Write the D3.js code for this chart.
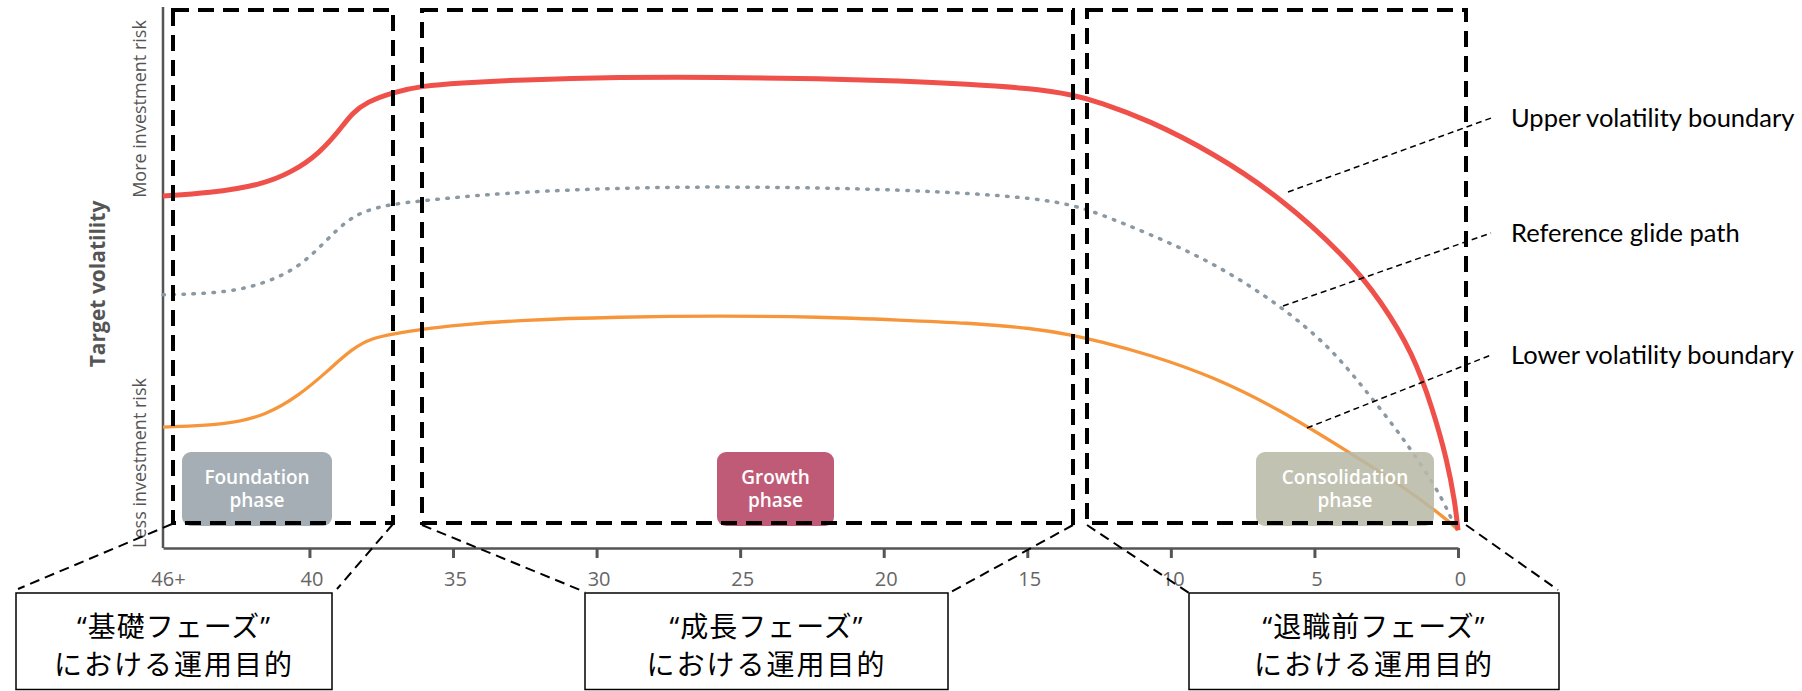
<!DOCTYPE html>
<html><head><meta charset="utf-8">
<script src="https://cdn.jsdelivr.net/npm/d3@7"></script>
<style>
html,body{margin:0;padding:0;background:#fff;}
svg{display:block;}
</style></head>
<body>
<svg id="chart" width="1802" height="691"></svg>
<script>
// ---------------- DATA ----------------
// years to retirement (x) vs target volatility index (0-100, no scale shown)
const upperBoundary = [
  [45.1,65.2],[43.5,65.7],[41.7,67.2],[40.6,69.6],[39.65,73.1],[38.95,77.4],[38.5,80.6],
  [38.0,82.6],[37.1,84.4],[36.05,85.6],[34.8,86.1],[32.7,86.7],[29.2,87.2],[25.7,87.2],
  [22.2,86.9],[19.4,86.5],[17.1,85.9],[14.8,85.1],[13.4,83.9],[12.5,82.6],[10.8,79.3],
  [8.5,73.1],[6.2,65.0],[3.9,53.9],[2.7,45.9],[1.57,36.1],[0.87,25.6],[0.38,16.3],
  [0.1,8.3],[0,3.3]
];
const referenceGlidePath = [
  [45.1,46.9],[42.9,47.2],[41.5,49.1],[40.35,52.0],[39.4,57.0],[38.7,60.7],[38.0,62.6],
  [37.1,63.7],[36.05,64.3],[34.8,65.0],[32.7,65.9],[29.2,66.7],[25.7,66.9],[22.2,66.7],
  [19.4,66.3],[17.1,65.7],[14.8,64.8],[13.4,63.5],[12.5,61.9],[10.8,58.3],[8.5,52.8],
  [6.2,45.0],[4.46,37.2],[3.31,29.8],[2.13,21.9],[1.22,15.0],[0.52,8.9],[0.17,4.6],[0,3.3]
];
const lowerBoundary = [
  [45.1,22.4],[42.9,22.8],[41.5,24.6],[40.35,28.3],[39.4,32.6],[38.5,37.0],[37.8,38.9],
  [37.1,39.6],[36.05,40.6],[34.8,41.3],[32.7,42.2],[29.2,42.8],[25.7,43.0],[22.2,42.8],
  [19.4,42.2],[17.1,41.7],[14.8,40.7],[13.4,39.4],[12.5,38.3],[10.8,35.9],[8.5,31.7],
  [6.2,25.6],[3.9,18.1],[1.57,10.2],[0.17,4.3],[0,3.3]
];
const xTickValues = [45.1, 40, 35, 30, 25, 20, 15, 10, 5, 0];
const xTickLabels = ["46+", "40", "35", "30", "25", "20", "15", "10", "5", "0"];
const seriesLabels = ["Upper volatility boundary", "Reference glide path", "Lower volatility boundary"];
const phaseLabels = [["Foundation", "phase"], ["Growth", "phase"], ["Consolidation", "phase"]];
const jpLine1 = ["“基礎フェーズ”", "“成長フェーズ”", "“退職前フェーズ”"];
const jpLine2 = ["における運用目的", "における運用目的", "における運用目的"];
const yAxisTitle = "Target volatility";
const yHighLabel = "More investment risk";
const yLowLabel = "Less investment risk";

// ---------------- LAYOUT ----------------
const svg = d3.select("#chart");
const X0 = 163, X1 = 1458, Y0 = 548, Y1 = 8;
const x = d3.scaleLinear().domain([45.1, 0]).range([X0, X1]);
const y = d3.scaleLinear().domain([0, 100]).range([Y0, Y1]);

const latin = "'Open Sans', 'Noto Sans', sans-serif";
const jpFont = "'Open Sans', 'Noto Sans CJK JP', sans-serif";

// axes
const xAxis = d3.axisBottom(x).tickValues(xTickValues)
  .tickFormat((d, i) => xTickLabels[i]).tickSize(10).tickSizeOuter(0).tickPadding(14);
const gx = svg.append("g").attr("transform", `translate(0,${Y0})`).call(xAxis);
gx.select(".domain").attr("stroke", "#555").attr("stroke-width", 2.5);
gx.selectAll(".tick line").attr("stroke", "#555").attr("stroke-width", 3)
  .attr("opacity", (d, i) => i === 0 ? 0 : 1);
gx.selectAll(".tick text").attr("fill", "#666").style("font-family", latin)
  .style("font-size", "20px").attr("dx", (d, i) => i === 0 ? 5 : 2);

const yAxis = d3.axisLeft(y).tickValues([]).tickSizeOuter(0);
const gy = svg.append("g").attr("transform", `translate(${X0},0)`).call(yAxis);
gy.select(".domain").attr("stroke", "#555").attr("stroke-width", 2.5)
  .attr("d", `M0,${Y0}V7`);

// y labels
svg.append("text").attr("transform", `translate(105,284) rotate(-90)`)
  .attr("text-anchor", "middle").attr("fill", "#555")
  .style("font-family", latin).style("font-weight", 700).style("font-size", "21px")
  .text(yAxisTitle);
svg.append("text").attr("transform", `translate(146,109) rotate(-90)`)
  .attr("text-anchor", "middle").attr("fill", "#555")
  .style("font-family", latin).style("font-size", "18px").text(yHighLabel);
svg.append("text").attr("transform", `translate(146,463) rotate(-90)`)
  .attr("text-anchor", "middle").attr("fill", "#555")
  .style("font-family", latin).style("font-size", "18px").text(yLowLabel);

// curves
const line = d3.line().x(d => x(d[0])).y(d => y(d[1])).curve(d3.curveBasis);
svg.append("path").datum(lowerBoundary).attr("d", line).attr("fill", "none")
  .attr("stroke", "#f7953a").attr("stroke-width", 3.3);
svg.append("path").datum(referenceGlidePath).attr("d", line).attr("fill", "none")
  .attr("stroke", "#8a99a3").attr("stroke-width", 3.5)
  .attr("stroke-linecap", "round").attr("stroke-dasharray", "1.5,8.5");
svg.append("path").datum(upperBoundary).attr("d", line).attr("fill", "none")
  .attr("stroke", "#f0504a").attr("stroke-width", 5);

// phase boxes
const phaseBoxes = [
  {x: 182, w: 150, fill: "#a5aeb5", op: 1},
  {x: 717, w: 117, fill: "#c05b77", op: 1},
  {x: 1256, w: 178, fill: "#b8b9a6", op: 0.88}
];
phaseBoxes.forEach((b, i) => {
  svg.append("rect").attr("x", b.x).attr("y", 452).attr("width", b.w).attr("height", 74)
    .attr("rx", 9).attr("fill", b.fill).attr("opacity", b.op);
  [0, 1].forEach(k => {
    svg.append("text").attr("x", b.x + b.w / 2).attr("y", 484 + k * 23)
      .attr("text-anchor", "middle").attr("fill", "#fff")
      .style("font-family", latin).style("font-weight", 600).style("font-size", "19px")
      .text(phaseLabels[i][k]);
  });
});

// dashed phase frames
const frames = [[173, 393], [422, 1073], [1087, 1466]];
frames.forEach(f => {
  svg.append("rect").attr("x", f[0]).attr("y", 10).attr("width", f[1] - f[0]).attr("height", 513)
    .attr("fill", "none").attr("stroke", "#000").attr("stroke-width", 4)
    .attr("stroke-dasharray", "16,9");
});

// Japanese callout boxes and connectors
const jpBoxes = [[16, 332], [585, 948], [1189, 1559]];
const connectors = [
  [[172, 524], [18, 589]], [[393, 524], [337, 589]],
  [[422, 525], [585, 592]], [[1073, 525], [951, 592]],
  [[1087, 525], [1189, 593]], [[1466, 525], [1558, 590]]
];
connectors.forEach(c => {
  svg.append("line").attr("x1", c[0][0]).attr("y1", c[0][1]).attr("x2", c[1][0]).attr("y2", c[1][1])
    .attr("stroke", "#000").attr("stroke-width", 2).attr("stroke-dasharray", "10,6");
});
jpBoxes.forEach((b, i) => {
  svg.append("rect").attr("x", b[0]).attr("y", 593).attr("width", b[1] - b[0]).attr("height", 96.5)
    .attr("fill", "#fff").attr("stroke", "#000").attr("stroke-width", 1.5);
  const cx = (b[0] + b[1]) / 2;
  svg.append("text").attr("x", cx).attr("y", 637).attr("text-anchor", "middle")
    .style("font-family", jpFont).style("font-size", "28px").style("letter-spacing", "1px")
    .attr("fill", "#000").text(jpLine1[i]);
  svg.append("text").attr("x", cx).attr("y", 675).attr("text-anchor", "middle")
    .style("font-family", jpFont).style("font-size", "28px").style("letter-spacing", "2px")
    .attr("fill", "#000").text(jpLine2[i]);
});

// series annotations
const leaders = [[[1288, 192], [1494, 117]], [[1283, 306], [1491, 233]], [[1307, 428], [1491, 355]]];
const labelY = [118, 233, 355];
leaders.forEach((l, i) => {
  svg.append("line").attr("x1", l[0][0]).attr("y1", l[0][1]).attr("x2", l[1][0]).attr("y2", l[1][1])
    .attr("stroke", "#000").attr("stroke-width", 1.5).attr("stroke-dasharray", "6,4");
  svg.append("text").attr("x", 1511).attr("y", labelY[i]).attr("dy", "0.35em")
    .style("font-family", "Lato, 'Noto Sans', sans-serif").style("font-size", "25.5px")
    .attr("fill", "#000").text(seriesLabels[i]);
});
</script>
</body></html>
